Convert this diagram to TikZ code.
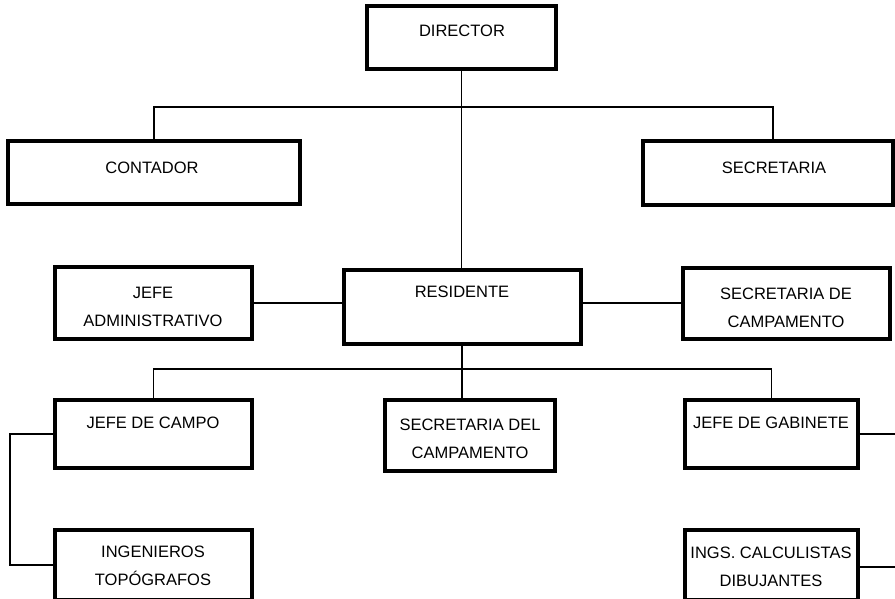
\documentclass[tikz,border=0pt]{standalone}
\usepackage{fontspec}
\setmainfont{Liberation Sans}
\begin{document}
\begin{tikzpicture}[x=1pt,y=-1pt,
  box/.style={draw=black, line width=3.2pt, rectangle, inner sep=0pt, fill=white},
  lbl/.style={anchor=base, inner sep=0pt, align=center,
    font=\fontsize{16.5}{28}\selectfont},
  wire/.style={draw=black, line width=1.3pt}]
\useasboundingbox (0,0) rectangle (895,598);
\clip (0,0) rectangle (895,598);

% boxes
\node[box, minimum width=189, minimum height=63] (dir)   at (461.5,37.5) {};
\node[box, minimum width=292, minimum height=63] (cont)  at (154,172.5) {};
\node[box, minimum width=250, minimum height=64] (secr)  at (768,173) {};
\node[box, minimum width=197, minimum height=72] (jadm)  at (153.5,303) {};
\node[box, minimum width=237, minimum height=74] (res)   at (462.5,307) {};
\node[box, minimum width=207, minimum height=71] (scamp) at (786.5,303.5) {};
\node[box, minimum width=197, minimum height=68] (jcampo) at (153.5,434) {};
\node[box, minimum width=170, minimum height=71] (sdcamp) at (470,435.5) {};
\node[box, minimum width=173, minimum height=68] (jgab)  at (771.5,434) {};
\node[box, minimum width=197, minimum height=70] (ingt)  at (153.5,565) {};
\node[box, minimum width=173, minimum height=70] (ingc)  at (771.5,565) {};

% labels (anchored at the baseline of their last line)
\node[lbl] (tdir)    at (462,36)  {DIRECTOR};
\node[lbl] (tcont)   at (152,173) {CONTADOR};
\node[lbl] (tsecr)   at (774,173) {SECRETARIA};
\node[lbl] (tjadm)   at (153,326) {JEFE\\ADMINISTRATIVO};
\node[lbl] (tres)    at (462,297) {RESIDENTE};
\node[lbl] (tscamp)  at (786,327) {SECRETARIA DE\\CAMPAMENTO};
\node[lbl] (tjcampo) at (153,428) {JEFE DE CAMPO};
\node[lbl] (tsdcamp) at (470,458) {SECRETARIA DEL\\CAMPAMENTO};
\node[lbl] (tjgab)   at (771,428) {JEFE DE GABINETE};
\node[lbl] (tingt)   at (153,585) {INGENIEROS\\TOPÓGRAFOS};
\node[lbl] (tingc)   at (771,586) {INGS. CALCULISTAS\\DIBUJANTES};

% junctions
\coordinate (b1) at (462,107);
\coordinate (b2) at (462,369);
\coordinate (lrail) at (10,0);
\coordinate (rrail) at (898,0);

% connectors
\draw[wire] (dir.south) -- (dir.south |- res.north);
\draw[wire] (cont.north) |- (b1) -| ([xshift=5pt]secr.north);
\draw[wire] (jadm.east) -- (jadm.east -| res.west);
\draw[wire] (res.east |- jadm.east) -- (scamp.west |- jadm.east);
\draw[wire] (b2 |- res.south) -- (b2);
\draw[wire] (jcampo.north) |- (b2) -| (jgab.north);
\draw[wire] (b2) -- (b2 |- sdcamp.north);
\draw[wire] (jcampo.west) -- (jcampo.west -| lrail) |- (ingt.west);
\draw[wire] (jgab.east) -- (jgab.east -| rrail) |- ([yshift=-2pt]ingc.east);
\end{tikzpicture}
\end{document}
